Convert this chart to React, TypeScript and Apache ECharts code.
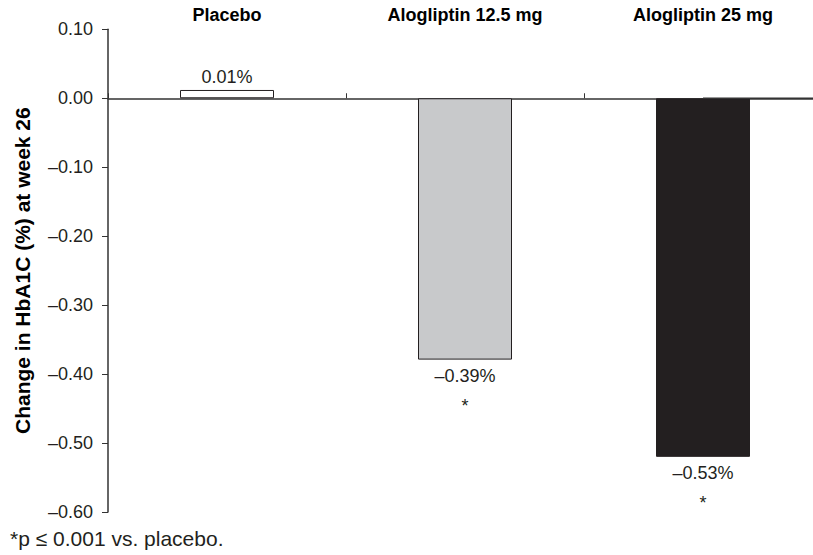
import React, { useEffect, useRef } from "react";
import * as echarts from "echarts";

const categories = ["Placebo", "Alogliptin 12.5 mg", "Alogliptin 25 mg"];
const values = [0.012, -0.379, -0.52];
const valueLabels = ["0.01%", "–0.39%", "–0.53%"];
const significance = ["", "*", "*"];
const barColors = ["#ffffff", "#c8c9cb", "#231f20"];
const yTitle = "Change in HbA1C (%) at week 26";
const footnote = "*p ≤ 0.001 vs. placebo.";

const FONT = "Liberation Sans, Arial, sans-serif";
const INK = "#231f20";
const AXIS = "#333333";

export default function App() {
  const ref = useRef<HTMLDivElement>(null);
  useEffect(() => {
    if (!ref.current) return;
    const chart = echarts.init(ref.current, undefined, { renderer: "svg" });
    const data = values.map((v, i) => ({
      value: v,
      itemStyle: { color: barColors[i], borderColor: INK, borderWidth: 1 },
      label: {
        show: true,
        position: v >= 0 ? "top" : "bottom",
        distance: v >= 0 ? 4 : 1,
        formatter: significance[i]
          ? `{a|${valueLabels[i]}}\n{b|${significance[i]}}`
          : `{c|${valueLabels[i]}}`,
        rich: {
          a: { fontSize: 18, fontFamily: FONT, color: INK, lineHeight: 30 },
          b: { fontSize: 18, fontFamily: FONT, color: INK, lineHeight: 30 },
          c: { fontSize: 18, fontFamily: FONT, color: INK },
        },
      },
    }));
    chart.setOption({
      animation: false,
      backgroundColor: "#ffffff",
      grid: {
        left: 108,
        top: 29.3,
        width: 714,
        height: 482.7,
        containLabel: false,
        outerBoundsMode: "none",
      },
      xAxis: [
        {
          type: "category",
          data: categories,
          position: "bottom",
          axisLine: { onZero: true, lineStyle: { color: AXIS, width: 1.5 } },
          axisTick: { show: true, inside: true, length: 5, lineStyle: { color: AXIS } },
          axisLabel: { show: false },
        },
        {
          type: "category",
          data: categories,
          position: "top",
          axisLine: { show: false },
          axisTick: { show: false },
          axisLabel: {
            show: true,
            margin: 5,
            fontSize: 18,
            fontWeight: "bold",
            fontFamily: FONT,
            color: "#000000",
          },
        },
      ],
      yAxis: {
        type: "value",
        min: -0.6,
        max: 0.1,
        interval: 0.1,
        splitLine: { show: false },
        axisLine: { show: true, lineStyle: { color: AXIS, width: 1.5 } },
        axisTick: { show: true, length: 6, lineStyle: { color: AXIS } },
        axisLabel: {
          margin: 15,
          fontSize: 18,
          fontFamily: FONT,
          color: INK,
          formatter: (v: number) => v.toFixed(2).replace("-", "–"),
        },
        name: yTitle,
        nameLocation: "middle",
        nameGap: 75,
        nameTextStyle: { fontSize: 21, fontWeight: "bold", fontFamily: FONT, color: "#000000" },
      },
      series: [
        {
          type: "bar",
          xAxisIndex: 0,
          data,
          barWidth: 94,
        },
      ],
      graphic: [
        {
          id: "footnote",
          type: "text",
          left: 10,
          top: 528,
          style: { text: footnote, fontSize: 21, fontFamily: FONT, fill: INK },
        },
      ],
    });
    // extend the zero line to the right edge of the page
    const y0 = chart.convertToPixel({ yAxisIndex: 0 }, 0) as number;
    const xStart = chart.convertToPixel({ xAxisIndex: 0 }, categories[categories.length - 1]) as number;
    chart.setOption({
      graphic: [
        {
          id: "zeroExt",
          type: "line",
          shape: { x1: xStart, y1: y0, x2: 813, y2: y0 },
          style: { stroke: AXIS, lineWidth: 1.5 },
          z: 5,
        },
      ],
    });
    return () => chart.dispose();
  }, []);
  return (
    <div
      ref={ref}
      style={{ position: "fixed", left: 0, top: 0, width: 813, height: 555 }}
    />
  );
}
